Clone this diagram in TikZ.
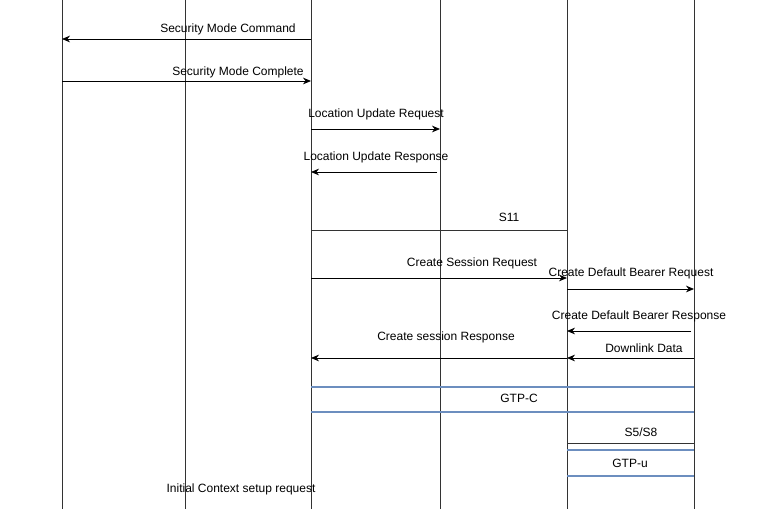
\documentclass[tikz,border=0pt]{standalone}
\usepackage{fontspec}
\setmainfont{Liberation Sans}
\usetikzlibrary{arrows.meta,positioning}
\definecolor{gtpblue}{HTML}{6C8EBF}
\tikzset{
  life/.style={draw=black!80,line width=0.6pt},
  msg/.style={->,>={Stealth[length=6pt,width=5pt]},line width=0.6pt},
  lbl/.style={font=\fontsize{9pt}{10pt}\selectfont,inner sep=0pt},
  tunnel/.style={draw=gtpblue,line width=2pt}
}
\begin{document}
\begin{tikzpicture}[x=0.75pt,y=-0.75pt]
\useasboundingbox (0,0) rectangle (765,509);

% lifelines
\foreach \n/\x in {la/62,lb/185,lc/311,ld/440,le/567,lf/694}{
  \coordinate (\n t) at (\x,0);
  \coordinate (\n b) at (\x,509);
  \draw[life] (\n t) -- (\n b);
}

% message end points
\coordinate (a1) at (311,39);  \coordinate (b1) at (62,39);
\coordinate (a2) at (62,81);   \coordinate (b2) at (311,81);
\coordinate (a3) at (311,129); \coordinate (b3) at (440,129);
\coordinate (a4) at (437,172); \coordinate (b4) at (311,172);
\coordinate (a5) at (311,230); \coordinate (b5) at (567,230);
\coordinate (a6) at (311,278); \coordinate (b6) at (567,278);
\coordinate (a7) at (567,289); \coordinate (b7) at (694,289);
\coordinate (a8) at (691,331); \coordinate (b8) at (567,331);
\coordinate (a9) at (567,358); \coordinate (b9) at (311,358);
\coordinate (a10) at (694,358); \coordinate (b10) at (567,358);
\coordinate (g1) at (311,387); \coordinate (h1) at (694,387);
\coordinate (g2) at (311,412); \coordinate (h2) at (694,412);
\coordinate (s1) at (567,443); \coordinate (t1) at (694,443);
\coordinate (g3) at (567,450); \coordinate (h3) at (694,450);
\coordinate (g4) at (567,476); \coordinate (h4) at (694,476);

\draw[msg] (a1) -- (b1);
\draw[msg] (a2) -- (b2);
\draw[msg] (a3) -- (b3);
\draw[msg] (a4) -- (b4);
\draw[life] (a5) -- (b5);
\draw[msg] (a6) -- (b6);
\draw[msg] (a7) -- (b7);
\draw[msg] (a8) -- (b8);
\draw[msg] (a9) -- (b9);
\draw[msg] (a10) -- (b10);
\draw[tunnel] (g1) -- (h1);
\draw[tunnel] (g2) -- (h2);
\draw[life] (s1) -- (t1);
\draw[tunnel] (g3) -- (h3);
\draw[tunnel] (g4) -- (h4);

% labels
\node[lbl] (m1) at (228,29) {Security Mode Command};
\node[lbl] (m2) at (238,72) {Security Mode Complete};
\node[lbl] (m3) at (376,114) {Location Update Request};
\node[lbl] (m4) at (376,157) {Location Update Response};
\node[lbl] (m5) at (509,217) {S11};
\node[lbl] (m6) at (472,263) {Create Session Request};
\node[lbl] (m7) at (631,273) {Create Default Bearer Request};
\node[lbl] (m8) at (639,316) {Create Default Bearer Response};
\node[lbl] (m9) at (446,337) {Create session Response};
\node[lbl] (m10) at (644,348) {Downlink Data};
\node[lbl] (m11) at (519,398) {GTP-C};
\node[lbl] (m12) at (641,432) {S5/S8};
\node[lbl] (m13) at (630,463) {GTP-u};
\node[lbl] (m14) at (241,489) {Initial Context setup request};
\end{tikzpicture}
\end{document}
